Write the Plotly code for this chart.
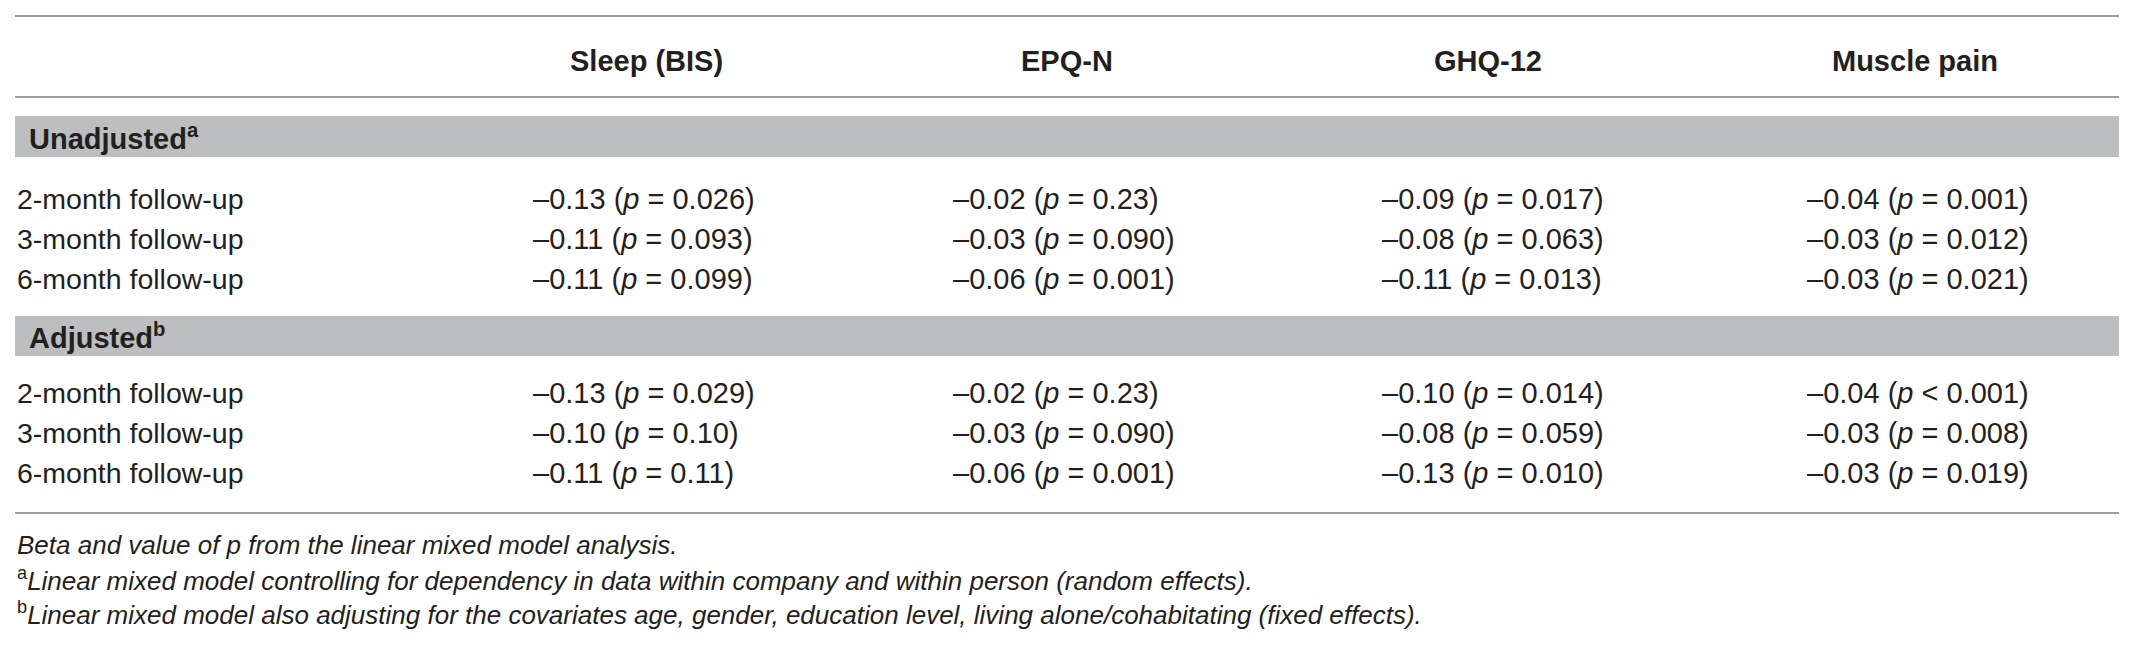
import plotly.graph_objs as go

# table content
outcomes = ["Sleep (BIS)", "EPQ-N", "GHQ-12", "Muscle pain"]
follow_ups = ["2-month follow-up", "3-month follow-up", "6-month follow-up"]
sections = ["Unadjusted<sup>a</sup>", "Adjusted<sup>b</sup>"]

unadj_beta = [[-0.13, -0.02, -0.09, -0.04],
              [-0.11, -0.03, -0.08, -0.03],
              [-0.11, -0.06, -0.11, -0.03]]
unadj_p = [["0.026", "0.23", "0.017", "0.001"],
           ["0.093", "0.090", "0.063", "0.012"],
           ["0.099", "0.001", "0.013", "0.021"]]

adj_beta = [[-0.13, -0.02, -0.10, -0.04],
            [-0.10, -0.03, -0.08, -0.03],
            [-0.11, -0.06, -0.13, -0.03]]
adj_p = [["0.029", "0.23", "0.014", "<0.001"],
         ["0.10", "0.090", "0.059", "0.008"],
         ["0.11", "0.001", "0.010", "0.019"]]

footnotes = [
    "<i>Beta and value of p from the linear mixed model analysis.</i>",
    "<sup>a</sup><i>Linear mixed model controlling for dependency in data within company and within person (random effects).</i>",
    "<sup>b</sup><i>Linear mixed model also adjusting for the covariates age, gender, education level, living alone/cohabitating (fixed effects).</i>",
]

# layout (pixels of the browser window); the page body has an 8px margin
W, H = 2137, 652
PAD = 8
X0, X1 = 15, 2119
head_cx = [646, 1067, 1488, 1915]
val_x = [531, 951, 1380, 1805]
ROW = 40
TXT = "#231f20"
RULE = "#9d9d9d"
BAND = "#bcbec0"
FONT = "Liberation Sans, Arial, sans-serif"


def fmt(b, p):
    if p.startswith("<"):
        rel = "&lt; " + p[1:]
    else:
        rel = "= " + p
    return "–%.2f (<i>p</i> %s)" % (abs(b), rel)


fig = go.Figure()
ann = []
shapes = []

# rules
for y in [16, 97, 513]:
    shapes.append(dict(type="line", xref="x", yref="y", x0=X0, x1=X1, y0=y, y1=y,
                       line=dict(color=RULE, width=2)))

# header
for name, cx in zip(outcomes, head_cx):
    ann.append(dict(x=cx, y=61, text="<b>%s</b>" % name, xanchor="center", yanchor="middle",
                    font=dict(size=29, color=TXT, family=FONT)))

blocks = [(116, 157, 199, unadj_beta, unadj_p), (316, 356, 393, adj_beta, adj_p)]
for sec, (b0, b1, r0, betas, ps) in zip(sections, blocks):
    shapes.append(dict(type="rect", xref="x", yref="y", x0=X0, x1=X1, y0=b0, y1=b1,
                       fillcolor=BAND, line=dict(width=0), layer="below"))
    ann.append(dict(x=X0 + 12, y=(b0 + b1) / 2, text="<b>%s</b>" % sec, xanchor="left",
                    yanchor="middle", font=dict(size=29, color=TXT, family=FONT)))
    for i, lab in enumerate(follow_ups):
        y = r0 + ROW * i
        ann.append(dict(x=X0, y=y, text=lab, xanchor="left", yanchor="middle",
                        font=dict(size=28.5, color=TXT, family=FONT)))
        for j in range(len(outcomes)):
            ann.append(dict(x=val_x[j], y=y, text=fmt(betas[i][j], ps[i][j]),
                            xanchor="left", yanchor="middle",
                            font=dict(size=29, color=TXT, family=FONT)))

for k, note in enumerate(footnotes):
    ann.append(dict(x=X0, y=545 + 34 * k, text=note, xanchor="left", yanchor="middle",
                    font=dict(size=26, color=TXT, family=FONT)))

for a in ann:
    a.update(xref="x", yref="y", showarrow=False)

# invisible trace so the axes exist
fig.add_trace(go.Scatter(x=[PAD, W - PAD], y=[PAD, H - PAD], mode="markers",
                         marker=dict(opacity=0), hoverinfo="skip", showlegend=False))

fig.update_layout(
    width=W - 2 * PAD, height=H - 2 * PAD, margin=dict(l=0, r=0, t=0, b=0),
    paper_bgcolor="white", plot_bgcolor="white",
    xaxis=dict(range=[PAD, W - PAD], visible=False, fixedrange=True),
    yaxis=dict(range=[H - PAD, PAD], visible=False, fixedrange=True),
    shapes=shapes, annotations=ann, showlegend=False,
)

fig.write_html("out.html")
